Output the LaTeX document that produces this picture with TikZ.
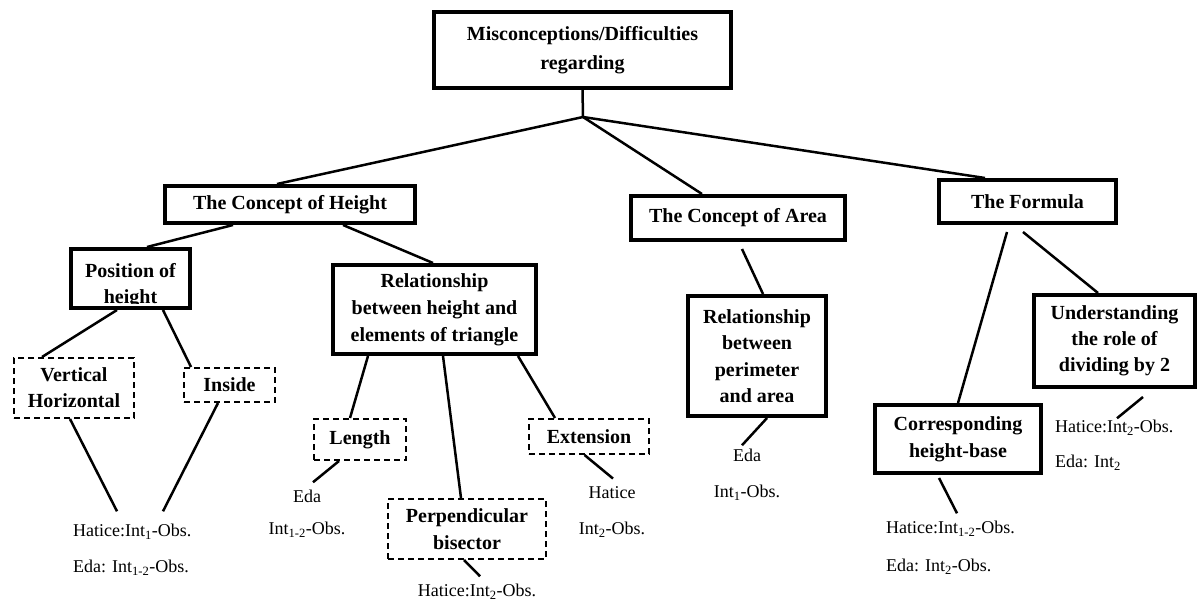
\documentclass[tikz,border=0pt]{standalone}
\usepackage{fontspec}
\setmainfont{Liberation Serif}
\usetikzlibrary{calc}
\tikzset{
  tbox/.style={draw, line width=4pt, inner sep=0pt, align=center, font=\fontsize{20}{27}\selectfont\bfseries},
  dbox/.style={draw, line width=2pt, dash pattern=on 6pt off 4pt, inner sep=0pt, align=center, font=\fontsize{20}{26}\selectfont\bfseries},
  lab/.style={inner sep=0pt, align=center, font=\fontsize{18}{36}\selectfont},
  labl/.style={lab, align=left, anchor=west},
  conn/.style={line width=2.5pt},
}
\begin{document}
\begin{tikzpicture}[x=1pt,y=-1pt]
\useasboundingbox[fill=white] (0,0) rectangle (1198,604);

% main boxes
\node[tbox, minimum width=297pt, minimum height=76pt, font=\fontsize{20}{29}\selectfont\bfseries] (root) at (582.5,50) {Misconceptions/Difficulties\\regarding};
\node[tbox, minimum width=250pt, minimum height=37pt] (height) at (290,204.5) {The Concept of Height};
\node[tbox, minimum width=214pt, minimum height=44pt] (area) at (738,218) {The Concept of Area};
\node[tbox, minimum width=177pt, minimum height=43pt] (formula) at (1027.5,201.5) {The Formula};

\node[tbox, minimum width=119pt, minimum height=59pt] (pos) at (130.5,278.5) {};
\begin{scope}
  \clip ($(pos.north west)+(2,2)$) rectangle ($(pos.south east)+(-2,-6.5)$);
  \node[inner sep=0pt, align=center, font=\fontsize{20}{26}\selectfont\bfseries] (postext) at (130.5,285.5) {Position of\\height};
\end{scope}

\node[tbox, minimum width=203pt, minimum height=89pt] (rel) at (434.5,309.5) {Relationship\\between height and\\elements of triangle};
\node[tbox, minimum width=138pt, minimum height=120pt, font=\fontsize{20}{26.5}\selectfont\bfseries] (rel2) at (757,356) {Relationship\\between\\perimeter\\and area};
\node[tbox, minimum width=161pt, minimum height=92pt, font=\fontsize{20}{26}\selectfont\bfseries] (und) at (1114.5,341) {Understanding\\the role of\\dividing by 2};
\node[tbox, minimum width=166pt, minimum height=68pt] (corr) at (958,439) {Corresponding\\height-base};

% dashed boxes
\node[dbox, minimum width=120pt, minimum height=60pt] (vh) at (74,388) {Vertical\\Horizontal};
\node[dbox, minimum width=91pt, minimum height=34pt] (inside) at (229.5,385) {Inside};
\node[dbox, minimum width=92pt, minimum height=41pt] (length) at (360,439.5) {Length};
\node[dbox, minimum width=158pt, minimum height=60pt, font=\fontsize{20}{27}\selectfont\bfseries] (perp) at (467,529) {Perpendicular\\bisector};
\node[dbox, minimum width=120pt, minimum height=35pt] (ext) at (589,436.5) {Extension};

% labels
\node[labl] (l1) at (73,550) {Hatice:Int\textsubscript{1}-Obs.\\Eda: Int\textsubscript{1-2}-Obs.};
\node[lab] (l2) at (307,514) {Eda\\[-4pt]Int\textsubscript{1-2}-Obs.};
\node[lab] (l3) at (477,592) {Hatice:Int\textsubscript{2}-Obs.};
\node[lab] (l4) at (612,512) {Hatice\\Int\textsubscript{2}-Obs.};
\node[lab] (l5) at (747,475) {Eda\\Int\textsubscript{1}-Obs.};
\node[labl, font=\fontsize{18}{35}\selectfont] (l6) at (1055,445.5) {Hatice:Int\textsubscript{2}-Obs.\\Eda: Int\textsubscript{2}};
\node[labl, font=\fontsize{18}{38}\selectfont] (l7) at (886,548) {Hatice:Int\textsubscript{1-2}-Obs.\\Eda: Int\textsubscript{2}-Obs.};

% connectors
\coordinate (j) at (583,117);
\draw[conn] (root.south) -- (j);
\draw[conn] (j) -- ([xshift=-13pt]height.north);
\draw[conn] (j) -- ([xshift=-36pt]area.north);
\draw[conn] (j) -- ([xshift=-42.5pt]formula.north);

\draw[conn] ([xshift=-57pt]height.south) -- ([xshift=16.5pt]pos.north);
\draw[conn] ([xshift=53pt]height.south) -- ([xshift=-1.5pt]rel.north);
\draw[conn] ([xshift=-13.5pt]pos.south) -- ([xshift=-32pt]vh.north);
\draw[conn] ([xshift=32.5pt]pos.south) -- ([xshift=-38.5pt]inside.north);
\draw[conn] ([xshift=-4pt]vh.south) -- ($(l1.north west)+(44,-13)$);
\draw[conn] ([xshift=-11.5pt]inside.south) -- ($(l1.north west)+(90,-13)$);

\draw[conn] ([xshift=-66.5pt]rel.south) -- ([xshift=-10pt]length.north);
\draw[conn] ([xshift=8.5pt]rel.south) -- ([xshift=-6pt]perp.north);
\draw[conn] ([xshift=83.5pt]rel.south) -- ([xshift=-34pt]ext.north);
\draw[conn] ([xshift=-21pt]length.south) -- ($(l2.north)+(6,-8)$);
\draw[conn] ([xshift=-3pt]perp.south) -- ($(l3.north)+(3,-8)$);
\draw[conn] ([xshift=-4.5pt]ext.south) -- ($(l4.north)+(1,-8)$);

\draw[conn] ([xshift=4pt,yshift=-7pt]area.south) -- ([xshift=6pt]rel2.north);
\draw[conn] ([xshift=10pt]rel2.south) -- ($(l5.north)+(-5,-4)$);

\draw[conn] ([xshift=-20.5pt,yshift=-7pt]formula.south) -- (corr.north);
\draw[conn] ([xshift=-4.5pt,yshift=-7pt]formula.south) -- ([xshift=-16.5pt]und.north);
\draw[conn] ([xshift=28.5pt,yshift=-8pt]und.south) -- ($(l6.north west)+(62,-2)$);
\draw[conn] ([xshift=-19pt,yshift=-3pt]corr.south) -- ($(l7.north west)+(71,-8)$);
\end{tikzpicture}
\end{document}
